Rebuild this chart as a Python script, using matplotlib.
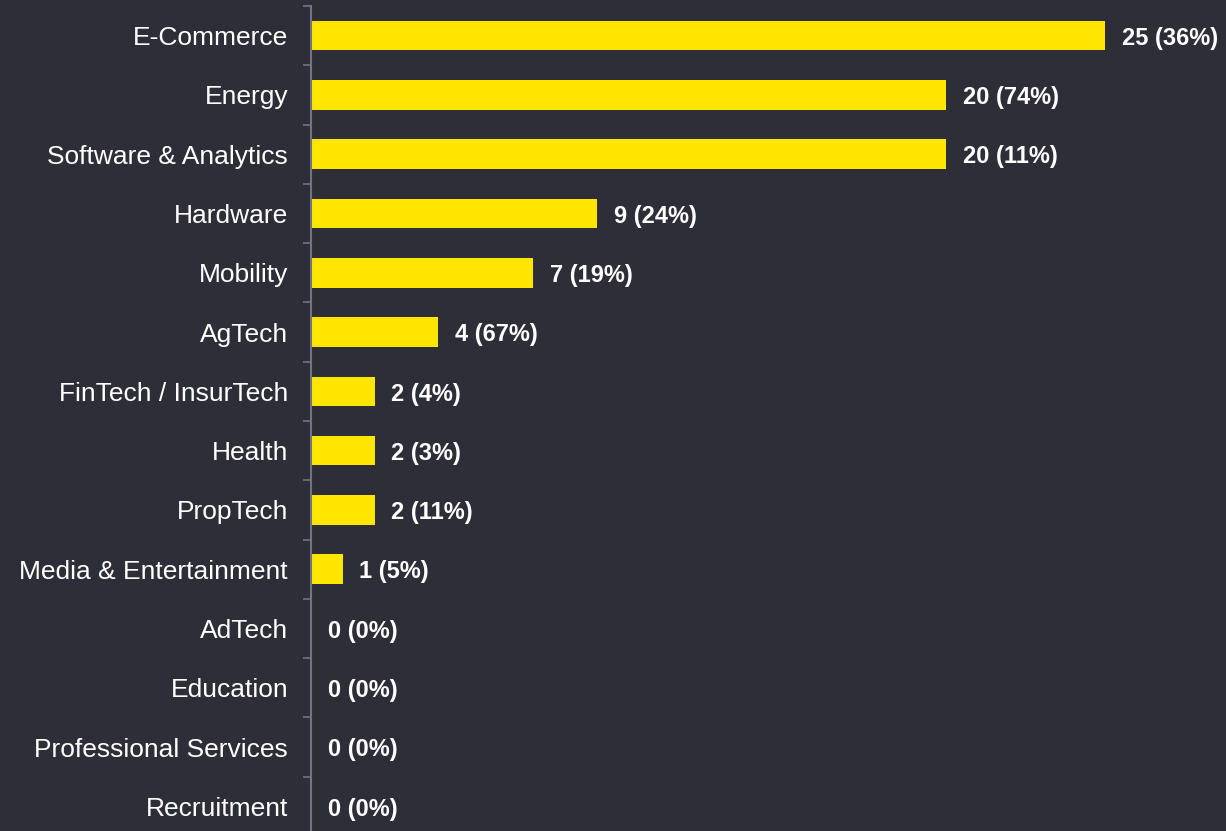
import matplotlib.pyplot as plt
from matplotlib import font_manager
import numpy as np

categories = ['E-Commerce', 'Energy', 'Software & Analytics', 'Hardware', 'Mobility',
              'AgTech', 'FinTech / InsurTech', 'Health', 'PropTech',
              'Media & Entertainment', 'AdTech', 'Education',
              'Professional Services', 'Recruitment']
counts = [25, 20, 20, 9, 7, 4, 2, 2, 2, 1, 0, 0, 0, 0]
shares = [36, 74, 11, 24, 19, 67, 4, 3, 11, 5, 0, 0, 0, 0]

BG = '#2e2e38'
YELLOW = '#ffe600'
AXIS = '#747480'


def pick_font(stem):
    # look up the Liberation Sans file directly (avoid the Narrow variant)
    for f in font_manager.fontManager.ttflist:
        if f.fname.split('/')[-1].startswith(stem + '.'):
            return font_manager.FontProperties(fname=f.fname)
    return font_manager.FontProperties(family='Liberation Sans')


regular = pick_font('LiberationSans-Regular')
bold = pick_font('LiberationSans-Bold')

fig = plt.figure(figsize=(12.26, 8.31), dpi=100, facecolor=BG)
# axis line at x=311 px, top boundary at y=6 px, bottom boundary below the figure edge
ax = fig.add_axes([311 / 1226, -5 / 831, 915 / 1226, 830 / 831])
ax.set_facecolor(BG)

y = np.arange(len(categories))
ax.barh(y, counts, height=0.5, color=YELLOW)

for yi, c, s in zip(y, counts, shares):
    t = ax.annotate(f'{c} ({s}%)', (c, yi), xytext=(12, -2), textcoords='offset points',
                    va='center', ha='left', color='white', fontproperties=bold)
    t.set_fontsize(17)

ax.set_xlim(0, 915 / 31.76)
ax.set_ylim(len(categories) - 0.5, -0.5)

ax.set_yticks(y)
ax.set_yticklabels(categories, color='white', fontproperties=regular)
for lab in ax.get_yticklabels():
    lab.set_fontsize(19)
ax.set_yticks(np.arange(len(categories) + 1) - 0.5, minor=True)
ax.tick_params(axis='y', which='major', length=0, pad=16.5)
ax.tick_params(axis='y', which='minor', length=6, width=1.2, color=AXIS)
ax.set_xticks([])

for side in ['top', 'right', 'bottom']:
    ax.spines[side].set_visible(False)
ax.spines['left'].set_color(AXIS)
ax.spines['left'].set_linewidth(1.5)

fig.savefig('out.png', dpi=100, facecolor=BG)
